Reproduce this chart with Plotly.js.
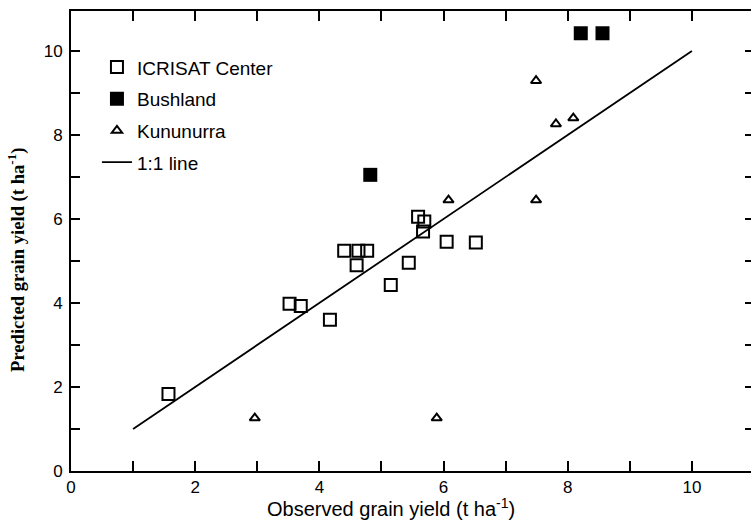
<!DOCTYPE html>
<html>
<head>
<meta charset="utf-8">
<script src="https://cdn.plot.ly/plotly-3.0.1.min.js"></script>
<style>
html, body { margin:0; padding:0; overflow:hidden; background:#fff; }
#chart { width:780px; height:522px; }
</style>
</head>
<body>
<div id="chart"></div>
<script>
// ICRISAT Center (open squares)
const icrisatX = [1.57, 3.52, 3.70, 4.17, 4.40, 4.63, 4.77, 4.60, 5.15, 5.44, 5.59, 5.69, 5.67, 6.05, 6.52];
const icrisatY = [1.83, 3.98, 3.93, 3.60, 5.24, 5.24, 5.24, 4.90, 4.43, 4.96, 6.05, 5.94, 5.70, 5.46, 5.44];
// Bushland (filled squares)
const bushlandX = [4.82, 8.21, 8.56];
const bushlandY = [7.05, 10.42, 10.42];
// Kununurra (open triangles)
const kununurraX = [2.96, 5.89, 6.08, 7.49, 7.49, 7.81, 8.09];
const kununurraY = [1.26, 1.26, 6.45, 6.45, 9.29, 8.26, 8.40];
// 1:1 line
const lineX = [1, 10];
const lineY = [1, 10];
// tick labels
const xTickVals = [0, 2, 4, 6, 8, 10];
const xTickText = ['0', '2', '4', '6', '8', '10'];
const yTickVals = [0, 2, 4, 6, 8, 10];
const yTickText = ['0', '2', '4', '6', '8', '10'];
const xTitle = 'Observed grain yield (t ha<sup>-1</sup>)';
const yTitle = 'Predicted grain yield (t ha<sup>-1</sup>)';

const traces = [
  {x: icrisatX, y: icrisatY, name: 'ICRISAT Center', mode: 'markers', type: 'scatter', legendgroup: 'a',
   marker: {symbol: 'square-open', size: 12, color: '#000', line: {width: 2, color: '#000'}}},
  {x: bushlandX, y: bushlandY, name: 'Bushland', mode: 'markers', type: 'scatter', legendgroup: 'b',
   marker: {symbol: 'square', size: 14, color: '#000', line: {width: 0}}},
  {x: kununurraX, y: kununurraY, name: 'Kununurra', mode: 'markers', type: 'scatter', legendgroup: 'c',
   marker: {symbol: 'triangle-up-open', size: 9, color: '#000', line: {width: 2, color: '#000'}}},
  {x: lineX, y: lineY, name: '1:1 line', mode: 'lines', type: 'scatter', legendgroup: 'd',
   line: {color: '#000', width: 1.8}}
];

const layout = {
  width: 780, height: 522,
  margin: {l: 71, r: 26, t: 11, b: 51},
  paper_bgcolor: '#fff', plot_bgcolor: '#fff',
  font: {family: 'Liberation Sans, Arial, sans-serif', color: '#000', size: 16},
  showlegend: true,
  legend: {x: 0.038, y: 0.919, xanchor: 'left', yanchor: 'top', bgcolor: 'rgba(0,0,0,0)',
           font: {size: 19, family: 'Liberation Sans, Arial, sans-serif'}, tracegroupgap: 4},
  xaxis: {
    range: [0, 11], showgrid: false, zeroline: false,
    showline: true, linecolor: '#000', linewidth: 2, mirror: 'ticks',
    ticks: 'inside', ticklen: 10, tickwidth: 2, tickcolor: '#000',
    tickmode: 'array', tickvals: xTickVals, ticktext: xTickText,
    minor: {ticks: 'inside', dtick: 1, ticklen: 10, tickwidth: 2, tickcolor: '#000', showgrid: false},
    tickfont: {size: 17}, ticklabelstandoff: 0
  },
  yaxis: {
    range: [0, 10.95], showgrid: false, zeroline: false,
    showline: true, linecolor: '#000', linewidth: 2, mirror: 'ticks',
    ticks: 'inside', ticklen: 9, tickwidth: 2, tickcolor: '#000',
    tickmode: 'array', tickvals: yTickVals, ticktext: yTickText,
    minor: {ticks: 'inside', dtick: 1, ticklen: 9, tickwidth: 2, tickcolor: '#000', showgrid: false},
    tickfont: {size: 17}, ticklabelstandoff: 3
  },
  annotations: [
    {text: xTitle, xref: 'paper', yref: 'paper', x: 0.4685, y: -0.0785, xanchor: 'center', yanchor: 'middle',
     showarrow: false, font: {size: 20, family: 'Liberation Sans, Arial, sans-serif', color: '#000'}},
    {text: yTitle, xref: 'paper', yref: 'paper', x: -0.0791, y: 0.4587, xanchor: 'center', yanchor: 'middle',
     textangle: -90, showarrow: false,
     font: {size: 18.6, family: 'Liberation Serif, Times New Roman, serif', weight: 'bold', color: '#000'}}
  ]
};

Plotly.newPlot('chart', traces, layout, {displayModeBar: false, staticPlot: true});
</script>
</body>
</html>
